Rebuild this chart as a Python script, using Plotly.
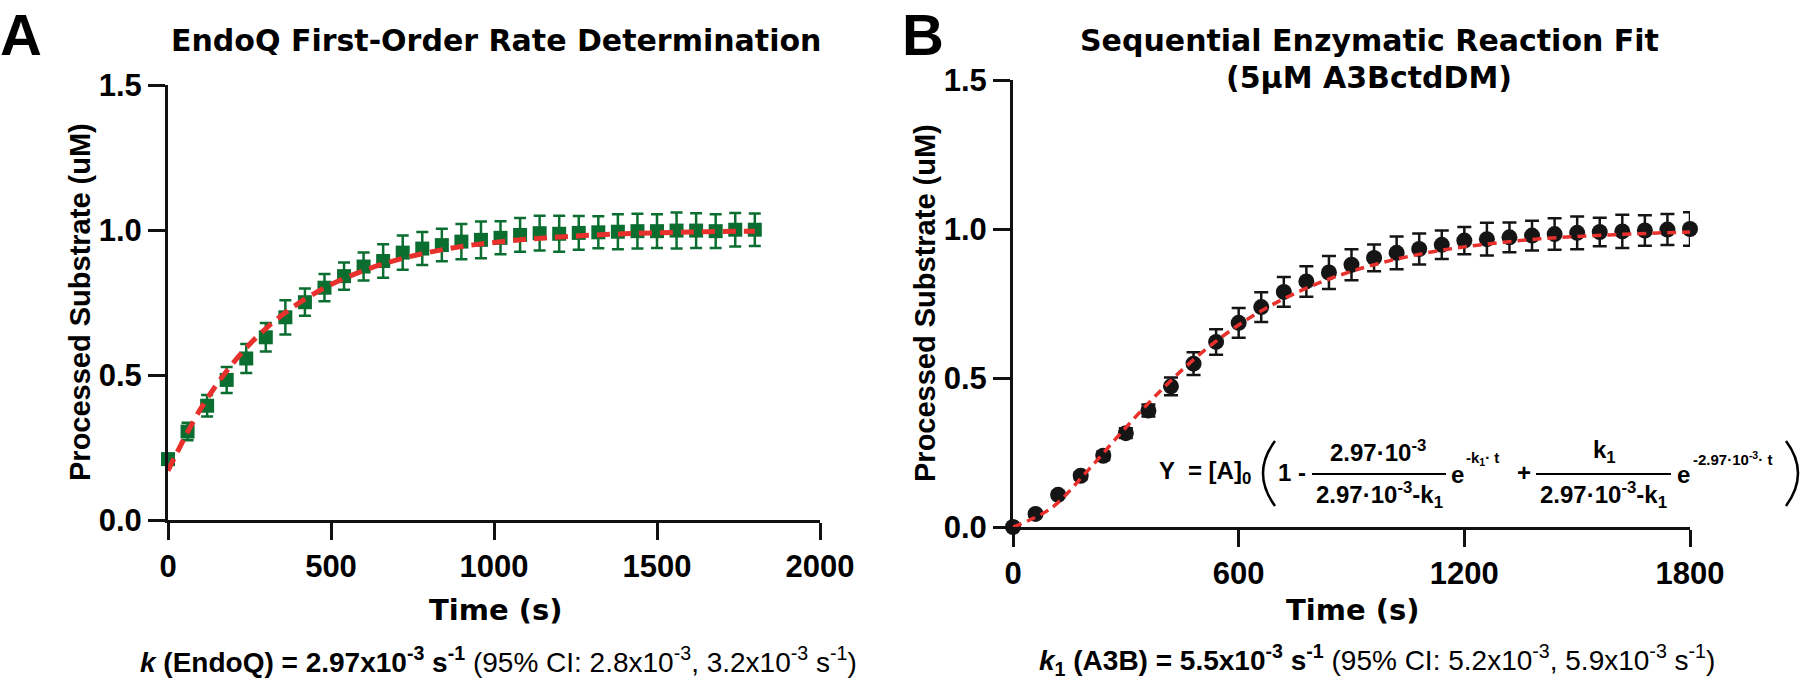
import plotly.graph_objects as go

W, H = 1800, 682

# ---------------- data ----------------
time_s = [0, 60, 120, 180, 240, 300, 360, 420, 480, 540, 600, 660, 720, 780, 840, 900,
          960, 1020, 1080, 1140, 1200, 1260, 1320, 1380, 1440, 1500, 1560, 1620, 1680, 1740, 1800]

endoq_y = [0.21, 0.305, 0.394, 0.483, 0.557, 0.630, 0.699, 0.751, 0.801, 0.841, 0.874, 0.893,
           0.922, 0.936, 0.948, 0.960, 0.966, 0.973, 0.983, 0.989, 0.987, 0.990, 0.992, 0.994,
           0.996, 0.996, 0.998, 0.998, 0.996, 1.001, 1.001]
endoq_err = [0.012, 0.030, 0.037, 0.045, 0.050, 0.049, 0.059, 0.047, 0.047, 0.047, 0.048, 0.058,
             0.059, 0.057, 0.056, 0.061, 0.063, 0.057, 0.058, 0.060, 0.062, 0.058, 0.055, 0.060,
             0.060, 0.058, 0.062, 0.060, 0.058, 0.058, 0.056]

fit_t = [0, 100, 200, 300, 400, 500, 600, 700, 800, 900, 1000, 1100, 1200, 1300, 1400, 1500,
         1600, 1700, 1800]
endoq_fit = [0.170, 0.383, 0.542, 0.660, 0.747, 0.812, 0.860, 0.896, 0.923, 0.943, 0.957, 0.968,
             0.976, 0.982, 0.987, 0.990, 0.993, 0.995, 0.996]

a3b_y = [0.0, 0.044, 0.108, 0.172, 0.239, 0.315, 0.391, 0.472, 0.548, 0.621, 0.685, 0.738,
         0.789, 0.824, 0.854, 0.880, 0.903, 0.920, 0.933, 0.947, 0.961, 0.966, 0.972, 0.978,
         0.983, 0.987, 0.990, 0.992, 0.995, 0.998, 1.000]
a3b_err = [0.005, 0.008, 0.010, 0.012, 0.014, 0.016, 0.020, 0.030, 0.038, 0.043, 0.050, 0.050,
           0.050, 0.051, 0.055, 0.052, 0.045, 0.055, 0.052, 0.048, 0.046, 0.055, 0.050, 0.050,
           0.053, 0.055, 0.048, 0.056, 0.051, 0.052, 0.056]
a3b_fit = [0.0, 0.062, 0.191, 0.334, 0.467, 0.583, 0.678, 0.753, 0.812, 0.858, 0.893, 0.920,
           0.940, 0.955, 0.967, 0.975, 0.981, 0.986, 0.990]

xticks_a = [0, 500, 1000, 1500, 2000]
xticks_b = [0, 600, 1200, 1800]
yticks = [0.0, 0.5, 1.0, 1.5]

GREEN = "#0b6e31"
BLACK = "#151515"
RED = "#e8302c"
AX = "#111111"
FONT = "Liberation Sans, Arial, sans-serif"
WIDE = "DejaVu Sans, Liberation Sans, sans-serif"


def px(x):
    return x / W


def py(y):
    return 1 - y / H


fig = go.Figure()

fig.add_trace(go.Scatter(
    x=time_s, y=endoq_y, mode="markers", xaxis="x", yaxis="y",
    marker=dict(symbol="square", size=14, color=GREEN),
    error_y=dict(type="data", array=endoq_err, color=GREEN, thickness=2.5, width=6),
    cliponaxis=False, showlegend=False))
fig.add_trace(go.Scatter(
    x=fit_t, y=endoq_fit, mode="lines", xaxis="x", yaxis="y", line_shape="spline",
    line=dict(color=RED, width=5, dash="13px,8px"), cliponaxis=False, showlegend=False))

fig.add_trace(go.Scatter(
    x=time_s, y=a3b_y, mode="markers", xaxis="x2", yaxis="y2",
    marker=dict(symbol="circle", size=16, color=BLACK),
    error_y=dict(type="data", array=a3b_err, color=BLACK, thickness=2.5, width=7),
    cliponaxis=False, showlegend=False))
fig.add_trace(go.Scatter(
    x=fit_t, y=a3b_fit, mode="lines", xaxis="x2", yaxis="y2", line_shape="spline",
    line=dict(color=RED, width=3.5, dash="9px,6px"), cliponaxis=False, showlegend=False))

axis_common = dict(showline=True, linewidth=3, linecolor=AX, ticks="outside", ticklen=17,
                   tickwidth=3, tickcolor=AX, showgrid=False, zeroline=False,
                   automargin=False,
                   tickfont=dict(family=FONT, size=31, color="#000", weight=700))

fig.update_layout(
    template="none",
    width=W, height=H, margin=dict(l=0, r=0, t=0, b=0, autoexpand=False),
    paper_bgcolor="white", plot_bgcolor="white",
    xaxis=dict(domain=[px(168), px(820)], range=[0, 2000], tickvals=xticks_a,
               anchor="y", **axis_common),
    yaxis=dict(domain=[py(520), py(85)], range=[0, 1.5], tickvals=yticks, tickformat=".1f",
               anchor="x", **axis_common),
    xaxis2=dict(domain=[px(1013), px(1690)], range=[0, 1800], tickvals=xticks_b,
                anchor="y2", **axis_common),
    yaxis2=dict(domain=[py(527), py(80)], range=[0, 1.5], tickvals=yticks, tickformat=".1f",
                anchor="x2", **axis_common),
)

ann = []


def text(x, y, s, size, xanchor="center", yanchor="middle", bold=True, family=FONT,
         angle=0):
    ann.append(dict(x=px(x), y=py(y), xref="paper", yref="paper", text=s, showarrow=False,
                    xanchor=xanchor, yanchor=yanchor, textangle=angle,
                    font=dict(family=family, size=size, color="#000",
                              weight=700 if bold else 400)))


# panel letters
text(-2, 0, "A", 58, xanchor="left", yanchor="top")
text(900, 0, "B", 58, xanchor="left", yanchor="top")
# titles
text(496, 41, "EndoQ First-Order Rate Determination", 30, family=WIDE)
text(1369, 41, "Sequential Enzymatic Reaction Fit", 30, family=WIDE)
text(1369, 77, "(5µM A3BctdDM)", 30, family=WIDE)
# axis titles
text(495, 610, "Time (s)", 29, family=WIDE)
text(1352, 610, "Time (s)", 29, family=WIDE)
text(80, 302, "Processed Substrate (uM)", 29, angle=-90)
text(925, 303, "Processed Substrate (uM)", 29, angle=-90)
# bottom notes
text(498, 660, "<b><i>k</i> (EndoQ) = 2.97x10<sup>-3</sup> s<sup>-1</sup></b> "
     "(95% CI: 2.8x10<sup>-3</sup>, 3.2x10<sup>-3</sup> s<sup>-1</sup>)", 28, bold=False)
text(1377, 660, "<b><i>k</i><sub>1</sub> (A3B) = 5.5x10<sup>-3</sup> s<sup>-1</sup></b> "
     "(95% CI: 5.2x10<sup>-3</sup>, 5.9x10<sup>-3</sup> s<sup>-1</sup>)", 28, bold=False)

# equation
EQ = 24
text(1157, 472, "Y  = [A]<sub>0</sub>", EQ, xanchor="left")
text(1276, 472, "1 -", EQ, xanchor="left")
text(1378, 451, "2.97·10<sup>-3</sup>", EQ)
text(1379, 495, "2.97·10<sup>-3</sup>-k<sub>1</sub>", EQ)
text(1449, 474, "e", EQ, xanchor="left")
text(1464, 459, "-k<sub>1</sub>· t", 15, xanchor="left")
text(1524, 472, "+", EQ)
text(1604, 451, "k<sub>1</sub>", EQ)
text(1603, 495, "2.97·10<sup>-3</sup>-k<sub>1</sub>", EQ)
text(1675, 474, "e", EQ, xanchor="left")
text(1691, 459, "-2.97·10<sup>-3</sup>· t", 15, xanchor="left")

shapes = [
    dict(type="line", xref="paper", yref="paper", x0=px(1312), x1=px(1446), y0=py(474),
         y1=py(474), line=dict(color="#000", width=2)),
    dict(type="line", xref="paper", yref="paper", x0=px(1536), x1=px(1671), y0=py(474),
         y1=py(474), line=dict(color="#000", width=2)),
    dict(type="path", xref="paper", yref="paper",
         path=f"M {px(1275)},{py(441)} Q {px(1251)},{py(473)} {px(1275)},{py(506)}",
         line=dict(color="#000", width=2.5)),
    dict(type="path", xref="paper", yref="paper",
         path=f"M {px(1786)},{py(441)} Q {px(1810)},{py(473)} {px(1786)},{py(506)}",
         line=dict(color="#000", width=2.5)),
]

fig.update_layout(annotations=ann, shapes=shapes)
fig.write_html("out.html", config={"displayModeBar": False},
               post_script="document.body.style.margin='0px';"
               "document.body.style.overflow='hidden';")
